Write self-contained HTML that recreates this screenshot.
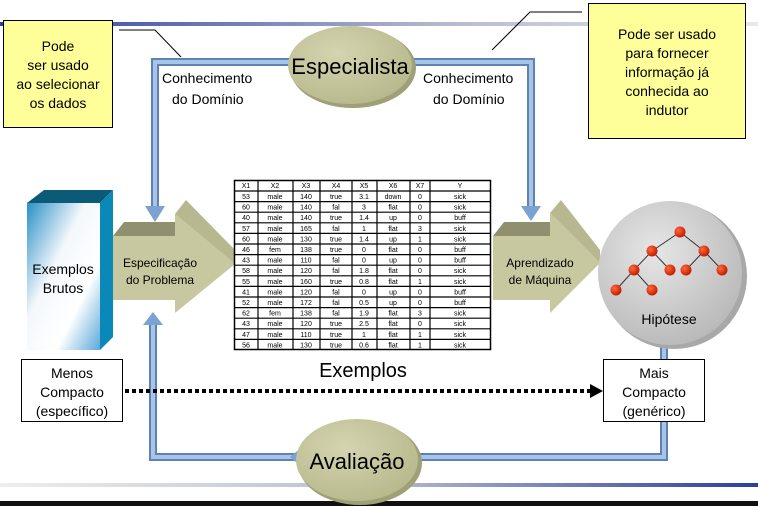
<!DOCTYPE html>
<html><head><meta charset="utf-8"><style>
html,body{margin:0;padding:0;background:#fff;}
svg{display:block;font-family:"Liberation Sans",sans-serif;}
</style></head><body>
<svg width="758" height="506" viewBox="0 0 758 506" xmlns="http://www.w3.org/2000/svg">
<defs>
<linearGradient id="tl" x1="0" x2="1"><stop offset="0" stop-color="#2a3fa0"/><stop offset="0.6" stop-color="#b8bcd0"/><stop offset="1" stop-color="#e8e8ee"/></linearGradient>
<linearGradient id="bl" x1="0" x2="1"><stop offset="0" stop-color="#eeeeee"/><stop offset="0.5" stop-color="#b8bcd0"/><stop offset="1" stop-color="#2a3fa0"/></linearGradient>
<radialGradient id="ol" cx="0.4" cy="0.35" r="0.7"><stop offset="0" stop-color="#d4d4b0"/><stop offset="1" stop-color="#b8b88c"/></radialGradient>
<radialGradient id="sp" cx="0.4" cy="0.35" r="0.7"><stop offset="0" stop-color="#e6e6e6"/><stop offset="1" stop-color="#b8b8b8"/></radialGradient>
<linearGradient id="bx" x1="0" y1="0" x2="1" y2="1"><stop offset="0" stop-color="#2a90c8"/><stop offset="0.4" stop-color="#f4f8fc"/><stop offset="0.7" stop-color="#ffffff"/><stop offset="1" stop-color="#5aa8d8"/></linearGradient>
<radialGradient id="rn" cx="0.35" cy="0.35" r="0.7"><stop offset="0" stop-color="#ff6a3a"/><stop offset="1" stop-color="#c01800"/></radialGradient>
</defs>
<!-- slide lines -->
<rect x="0" y="22" width="758" height="4" fill="url(#tl)"/>
<rect x="0" y="483" width="758" height="4" fill="url(#bl)"/>
<rect x="0" y="501" width="758" height="5" fill="#111"/>

<!-- pipes -->
<g fill="none" stroke-linejoin="miter">
<path d="M155,208 V62 H531 V208" stroke="#5d82b4" stroke-width="8"/>
<path d="M155,208 V62 H531 V208" stroke="#a8c4e6" stroke-width="4"/>
<path d="M153,322 V457 H664 V340" stroke="#5d82b4" stroke-width="8"/>
<path d="M153,322 V457 H664 V340" stroke="#a8c4e6" stroke-width="4"/>
</g>
<polygon points="145,206 165,206 155,222" fill="#7aa2d2"/>
<polygon points="521,206 541,206 531,221" fill="#7aa2d2"/>
<polygon points="143,325 163,325 153,312" fill="#7aa2d2"/>
<polygon points="302,447 302,467 290,457" fill="#7aa2d2"/>

<!-- callouts -->
<polyline points="119,30 155,30 181,57" fill="none" stroke="#000" stroke-width="1"/>
<polyline points="582,12 530,12 492,50" fill="none" stroke="#000" stroke-width="1"/>
<rect x="3.5" y="20.5" width="109" height="107" fill="#ffff99" stroke="#000"/>
<g font-size="14" text-anchor="middle" fill="#000">
<text x="58" y="51">Pode</text><text x="58" y="70">ser usado</text><text x="58" y="89">ao selecionar</text><text x="58" y="108">os dados</text>
</g>
<rect x="588.5" y="3.5" width="157" height="135" fill="#ffff99" stroke="#000"/>
<g font-size="14" text-anchor="middle" fill="#000">
<text x="667" y="39">Pode ser usado</text><text x="667" y="58">para fornecer</text><text x="667" y="77">informação já</text><text x="667" y="96">conhecida ao</text><text x="667" y="115">indutor</text>
</g>

<!-- Especialista -->
<ellipse cx="353" cy="68" rx="63" ry="40" fill="#a0a078"/>
<ellipse cx="350" cy="65" rx="62" ry="39" fill="url(#ol)"/>
<text x="350" y="74" font-size="22" text-anchor="middle">Especialista</text>
<g font-size="14" fill="#000">
<text x="162" y="83">Conhecimento</text><text x="172" y="104">do Domínio</text>
<text x="423" y="83">Conhecimento</text><text x="433" y="104">do Domínio</text>
</g>

<!-- Exemplos Brutos box -->
<polygon points="27,203 44,190 113,190 100,203" fill="#0a5a78"/>
<polygon points="100,203 113,190 113,337 100,350" fill="#0a88b8"/>
<rect x="27" y="203" width="73" height="147" fill="url(#bx)"/>
<g font-size="14" text-anchor="middle"><text x="63" y="274">Exemplos</text><text x="63" y="293">Brutos</text></g>

<!-- Spec arrow -->
<polygon points="113,236 175,236 175,214 235,264 175,313 175,300 113,300" fill="#c8c8a0"/>
<polygon points="113,236 124,222 175,222 175,236" fill="#909070"/>
<polygon points="175,214 186,200 235,250 235,264" fill="#b8b890"/>
<g font-size="12" text-anchor="middle"><text x="160" y="267">Especificação</text><text x="160" y="284">do Problema</text></g>

<!-- Aprendizado arrow -->
<polygon points="493,236 550,236 550,213 600,263 550,313 550,300 493,300" fill="#c8c8a0"/>
<polygon points="493,236 504,222 550,222 550,236" fill="#909070"/>
<polygon points="550,213 561,200 600,250 600,263" fill="#b8b890"/>
<g font-size="12" text-anchor="middle"><text x="540" y="267">Aprendizado</text><text x="540" y="284">de Máquina</text></g>

<!-- Table -->
<g font-size="7" text-anchor="middle" fill="#000">
<rect x="234.5" y="180.5" width="256" height="169" fill="#fff" stroke="#000" stroke-width="1.5"/>
<g stroke="#000" stroke-width="1.2">
<line x1="258" y1="180" x2="258" y2="350"/><line x1="293" y1="180" x2="293" y2="350"/><line x1="320" y1="180" x2="320" y2="350"/><line x1="352" y1="180" x2="352" y2="350"/><line x1="377" y1="180" x2="377" y2="350"/><line x1="410" y1="180" x2="410" y2="350"/><line x1="430" y1="180" x2="430" y2="350"/>
<line x1="234" y1="191" x2="491" y2="191"/><line x1="234" y1="201.6" x2="491" y2="201.6"/><line x1="234" y1="212.2" x2="491" y2="212.2"/><line x1="234" y1="222.8" x2="491" y2="222.8"/><line x1="234" y1="233.4" x2="491" y2="233.4"/><line x1="234" y1="244" x2="491" y2="244"/><line x1="234" y1="254.6" x2="491" y2="254.6"/><line x1="234" y1="265.2" x2="491" y2="265.2"/><line x1="234" y1="275.8" x2="491" y2="275.8"/><line x1="234" y1="286.4" x2="491" y2="286.4"/><line x1="234" y1="297" x2="491" y2="297"/><line x1="234" y1="307.6" x2="491" y2="307.6"/><line x1="234" y1="318.2" x2="491" y2="318.2"/><line x1="234" y1="328.8" x2="491" y2="328.8"/><line x1="234" y1="339.4" x2="491" y2="339.4"/>
</g>
<g>
<text y="188"><tspan x="246">X1</tspan><tspan x="275">X2</tspan><tspan x="306">X3</tspan><tspan x="336">X4</tspan><tspan x="364">X5</tspan><tspan x="393">X6</tspan><tspan x="420">X7</tspan><tspan x="460">Y</tspan></text>
<text y="199"><tspan x="246">53</tspan><tspan x="275">male</tspan><tspan x="306">140</tspan><tspan x="336">true</tspan><tspan x="364">3.1</tspan><tspan x="393">down</tspan><tspan x="420">0</tspan><tspan x="460">sick</tspan></text>
<text y="209.6"><tspan x="246">60</tspan><tspan x="275">male</tspan><tspan x="306">140</tspan><tspan x="336">fal</tspan><tspan x="364">3</tspan><tspan x="393">flat</tspan><tspan x="420">0</tspan><tspan x="460">sick</tspan></text>
<text y="220.2"><tspan x="246">40</tspan><tspan x="275">male</tspan><tspan x="306">140</tspan><tspan x="336">true</tspan><tspan x="364">1.4</tspan><tspan x="393">up</tspan><tspan x="420">0</tspan><tspan x="460">buff</tspan></text>
<text y="230.8"><tspan x="246">57</tspan><tspan x="275">male</tspan><tspan x="306">165</tspan><tspan x="336">fal</tspan><tspan x="364">1</tspan><tspan x="393">flat</tspan><tspan x="420">3</tspan><tspan x="460">sick</tspan></text>
<text y="241.4"><tspan x="246">60</tspan><tspan x="275">male</tspan><tspan x="306">130</tspan><tspan x="336">true</tspan><tspan x="364">1.4</tspan><tspan x="393">up</tspan><tspan x="420">1</tspan><tspan x="460">sick</tspan></text>
<text y="252"><tspan x="246">46</tspan><tspan x="275">fem</tspan><tspan x="306">138</tspan><tspan x="336">true</tspan><tspan x="364">0</tspan><tspan x="393">flat</tspan><tspan x="420">0</tspan><tspan x="460">buff</tspan></text>
<text y="262.6"><tspan x="246">43</tspan><tspan x="275">male</tspan><tspan x="306">110</tspan><tspan x="336">fal</tspan><tspan x="364">0</tspan><tspan x="393">up</tspan><tspan x="420">0</tspan><tspan x="460">buff</tspan></text>
<text y="273.2"><tspan x="246">58</tspan><tspan x="275">male</tspan><tspan x="306">120</tspan><tspan x="336">fal</tspan><tspan x="364">1.8</tspan><tspan x="393">flat</tspan><tspan x="420">0</tspan><tspan x="460">sick</tspan></text>
<text y="283.8"><tspan x="246">55</tspan><tspan x="275">male</tspan><tspan x="306">160</tspan><tspan x="336">true</tspan><tspan x="364">0.8</tspan><tspan x="393">flat</tspan><tspan x="420">1</tspan><tspan x="460">sick</tspan></text>
<text y="294.4"><tspan x="246">41</tspan><tspan x="275">male</tspan><tspan x="306">120</tspan><tspan x="336">fal</tspan><tspan x="364">0</tspan><tspan x="393">up</tspan><tspan x="420">0</tspan><tspan x="460">buff</tspan></text>
<text y="305"><tspan x="246">52</tspan><tspan x="275">male</tspan><tspan x="306">172</tspan><tspan x="336">fal</tspan><tspan x="364">0.5</tspan><tspan x="393">up</tspan><tspan x="420">0</tspan><tspan x="460">buff</tspan></text>
<text y="315.6"><tspan x="246">62</tspan><tspan x="275">fem</tspan><tspan x="306">138</tspan><tspan x="336">fal</tspan><tspan x="364">1.9</tspan><tspan x="393">flat</tspan><tspan x="420">3</tspan><tspan x="460">sick</tspan></text>
<text y="326.2"><tspan x="246">43</tspan><tspan x="275">male</tspan><tspan x="306">120</tspan><tspan x="336">true</tspan><tspan x="364">2.5</tspan><tspan x="393">flat</tspan><tspan x="420">0</tspan><tspan x="460">sick</tspan></text>
<text y="336.8"><tspan x="246">47</tspan><tspan x="275">male</tspan><tspan x="306">110</tspan><tspan x="336">true</tspan><tspan x="364">1</tspan><tspan x="393">flat</tspan><tspan x="420">1</tspan><tspan x="460">sick</tspan></text>
<text y="347.4"><tspan x="246">56</tspan><tspan x="275">male</tspan><tspan x="306">130</tspan><tspan x="336">true</tspan><tspan x="364">0.6</tspan><tspan x="393">flat</tspan><tspan x="420">1</tspan><tspan x="460">sick</tspan></text>
</g>
</g>

<!-- Hipotese sphere -->
<circle cx="674" cy="276" r="73" fill="#a8a8a8"/>
<circle cx="670" cy="273" r="72" fill="url(#sp)"/>
<g stroke="#333" stroke-width="1">
<line x1="680" y1="232" x2="652" y2="251"/><line x1="680" y1="232" x2="704" y2="251"/>
<line x1="652" y1="251" x2="634" y2="270"/><line x1="652" y1="251" x2="670" y2="270"/>
<line x1="704" y1="251" x2="686" y2="270"/><line x1="704" y1="251" x2="722" y2="270"/>
<line x1="634" y1="270" x2="616" y2="290"/><line x1="634" y1="270" x2="652" y2="290"/>
</g>
<g fill="url(#rn)">
<circle cx="680" cy="232" r="5.5"/><circle cx="652" cy="251" r="5.5"/><circle cx="704" cy="251" r="5.5"/>
<circle cx="634" cy="270" r="5.5"/><circle cx="670" cy="270" r="5.5"/><circle cx="686" cy="270" r="5.5"/><circle cx="722" cy="270" r="5.5"/>
<circle cx="616" cy="290" r="5.5"/><circle cx="652" cy="290" r="5.5"/>
</g>
<text x="669" y="324" font-size="14" text-anchor="middle">Hipótese</text>

<!-- bottom boxes -->
<rect x="21.5" y="359.5" width="101" height="62" fill="#fff" stroke="#000"/>
<g font-size="14" text-anchor="middle"><text x="72" y="378">Menos</text><text x="72" y="397">Compacto</text><text x="72" y="416">(específico)</text></g>
<rect x="603.5" y="359.5" width="101" height="62" fill="#fff" stroke="#000"/>
<g font-size="14" text-anchor="middle"><text x="654" y="378">Mais</text><text x="654" y="397">Compacto</text><text x="654" y="416">(genérico)</text></g>
<line x1="125" y1="391" x2="592" y2="391" stroke="#000" stroke-width="4" stroke-dasharray="4,3"/>
<polygon points="590,384 603,391 590,398" fill="#000"/>
<text x="363" y="377" font-size="20" text-anchor="middle">Exemplos</text>

<!-- Avaliação -->
<ellipse cx="360" cy="463" rx="62" ry="42" fill="#a0a078"/>
<ellipse cx="357" cy="460" rx="61" ry="41" fill="url(#ol)"/>
<text x="357" y="469" font-size="22" text-anchor="middle">Avaliação</text>
</svg>
</body></html>
